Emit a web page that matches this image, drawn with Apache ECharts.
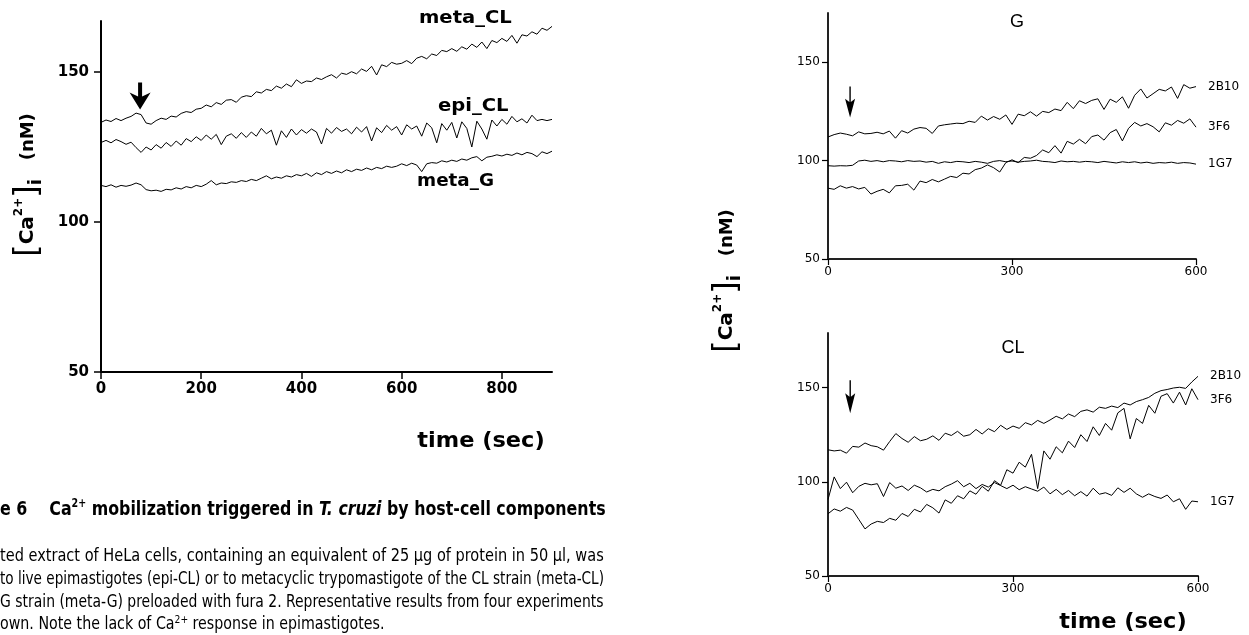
<!DOCTYPE html>
<html><head><meta charset="utf-8">
<script src="https://cdn.jsdelivr.net/npm/echarts@6/dist/echarts.min.js"></script>
<style>html,body{margin:0;padding:0;background:#fff}#c{width:1249px;height:635px}</style>
</head><body><div id="c"></div>
<script>
// ---------- data ----------
const timeLeft = [0,10,20,30,40,50,60,70,80,90,100,110,120,130,140,150,160,170,180,190,200,210,220,230,240,250,260,270,280,290,300,310,320,330,340,350,360,370,380,390,400,410,420,430,440,450,460,470,480,490,500,510,520,530,540,550,560,570,580,590,600,610,620,630,640,650,660,670,680,690,700,710,720,730,740,750,760,770,780,790,800,810,820,830,840,850,860,870,880,890,900];
const timeRight = [0,10,20,30,40,50,60,70,80,90,100,110,120,130,140,150,160,170,180,190,200,210,220,230,240,250,260,270,280,290,300,310,320,330,340,350,360,370,380,390,400,410,420,430,440,450,460,470,480,490,500,510,520,530,540,550,560,570,580,590,600];

const metaCL = [133.2,134.0,133.5,134.5,133.8,134.6,135.2,136.3,135.8,133.0,
132.6,133.8,134.6,134.2,135.3,135.0,136.2,136.8,136.5,137.6,
137.9,139.0,138.4,139.8,139.2,140.6,140.8,139.9,141.6,142.1,
141.8,143.4,143.0,144.2,143.8,145.3,144.6,146.0,145.1,147.4,
146.2,147.0,146.8,148.0,147.5,148.4,149.1,148.0,149.6,149.2,
150.1,149.4,151.0,150.2,151.9,149.0,152.4,151.8,153.2,152.6,
152.9,153.8,152.8,154.6,155.2,154.4,156.0,155.5,157.2,156.8,
157.8,156.9,158.4,157.6,159.3,158.2,160.0,157.8,160.5,159.8,
161.2,160.2,162.2,159.6,162.4,162.0,163.4,162.6,164.6,163.9,
165.2];
const epiCL = [126.5,127.2,126.4,127.5,126.8,125.9,126.6,124.8,123.2,125.0,
124.0,125.8,124.6,126.5,125.2,127.0,125.6,127.8,126.8,128.4,
127.2,129.0,127.6,129.2,125.8,128.6,129.4,127.9,129.8,128.2,
130.0,128.6,131.2,129.4,130.6,125.6,130.4,128.2,131.0,129.0,
130.8,129.6,131.0,130.0,126.0,131.2,129.6,131.5,130.2,131.0,
129.4,131.6,130.0,131.8,127.0,131.4,129.8,132.2,130.6,131.8,
129.0,132.4,131.0,132.0,128.6,133.0,131.4,126.4,132.8,130.6,
133.2,128.0,133.4,131.2,125.0,133.6,131.0,127.6,134.0,132.0,
134.2,132.6,135.2,133.4,134.4,133.0,135.6,133.8,134.2,133.8,
134.2];
const metaG = [112.2,111.8,112.4,111.6,112.2,111.9,112.3,113.0,112.4,110.8,
110.4,110.6,110.2,110.9,110.7,111.4,111.0,111.8,111.4,112.2,
111.8,112.6,113.8,112.4,113.0,112.8,113.4,113.2,113.8,113.5,
114.2,113.8,114.6,115.4,114.4,115.0,114.6,115.4,115.0,115.8,
115.4,116.2,115.2,116.4,115.8,116.8,116.2,117.0,116.4,117.4,
116.8,117.6,117.2,118.0,117.4,118.2,117.8,118.6,118.2,118.6,
119.4,118.8,119.6,119.0,116.8,119.4,119.8,119.6,120.4,120.0,
120.6,120.2,121.0,120.6,121.4,121.8,120.4,121.6,121.9,122.4,
122.0,122.6,122.2,123.0,122.4,123.2,122.8,121.8,123.4,122.8,
123.6];

const g2B10 = [112.0,113.2,114.0,113.4,112.6,114.6,113.6,113.8,114.4,113.6,
115.0,111.4,115.2,114.0,116.0,116.8,116.4,113.8,117.6,118.2,
118.6,119.0,118.8,120.0,119.4,122.6,120.6,122.4,121.0,123.2,
118.4,123.6,122.8,124.8,122.6,125.0,124.4,126.2,125.4,129.6,
126.4,130.4,129.0,130.6,131.4,126.0,131.2,129.6,132.4,126.6,
133.2,136.4,131.8,134.0,136.2,135.4,137.4,131.6,138.6,136.8,
137.6];
const g3F6 = [86.0,85.4,87.2,86.0,86.8,85.6,86.4,83.0,84.4,85.4,
83.6,87.2,87.4,88.0,85.0,89.6,88.8,90.4,89.2,90.6,
92.0,91.4,93.6,93.2,95.4,96.2,97.8,96.4,94.2,99.0,
100.4,99.0,101.6,101.2,102.6,105.4,104.0,107.6,103.8,109.8,
108.4,110.8,108.6,112.2,113.0,110.4,114.2,115.8,110.0,116.4,
119.4,117.6,118.8,117.2,114.6,119.2,118.0,120.4,119.0,121.2,
117.0];
const g1G7 = [97.4,97.2,97.4,97.3,97.6,99.8,100.2,99.6,100.0,99.4,
100.0,99.8,99.4,100.0,99.6,99.8,99.2,99.6,98.6,99.4,
99.0,99.6,99.4,99.0,99.6,99.2,98.6,99.6,100.0,99.4,
99.8,99.2,99.6,99.8,100.2,99.6,99.4,99.0,99.8,99.4,
99.6,99.2,99.6,99.4,99.0,99.6,99.2,98.8,99.4,99.0,
99.4,98.8,99.2,98.6,99.0,98.8,99.2,98.6,99.0,98.8,
98.2];

const cl2B10 = [117.0,116.4,116.8,115.2,118.8,118.4,120.6,119.2,118.6,116.8,
121.4,125.6,123.0,121.0,124.0,121.8,122.6,124.4,122.0,125.8,
124.6,126.8,124.2,125.0,127.8,125.4,128.2,126.6,130.0,127.8,
129.6,128.4,131.4,130.2,132.6,131.0,132.8,134.8,133.4,136.0,
134.6,137.4,138.2,137.0,139.6,139.0,140.2,139.4,141.8,140.8,
142.6,143.6,144.8,147.0,148.4,149.0,149.8,150.2,149.6,153.0,
156.0];
const cl3F6 = [83.0,85.6,84.4,86.4,85.0,80.0,75.0,77.6,79.0,78.4,
80.6,79.6,83.2,81.6,85.4,84.0,88.0,86.2,83.4,90.4,
88.6,92.6,91.0,95.2,93.4,97.6,95.0,100.6,98.2,106.4,
104.6,110.4,107.8,114.6,96.4,116.4,112.0,118.6,115.4,121.6,
118.2,125.0,121.4,129.2,124.6,131.0,127.4,136.6,139.0,122.8,
133.6,131.0,140.6,136.4,145.4,146.8,141.8,147.6,140.8,149.4,
143.6];
const cl1G7 = [90.6,102.6,96.4,99.8,94.2,97.6,99.2,98.4,99.0,92.2,
99.6,96.6,97.8,95.4,98.2,96.8,94.6,96.0,95.2,97.4,
98.8,100.6,97.4,99.2,96.4,98.6,97.2,99.6,98.0,96.4,
98.2,95.8,97.4,96.2,95.0,97.2,93.6,96.0,93.2,95.4,
92.6,94.8,92.4,96.6,93.4,94.2,92.8,96.8,94.4,96.6,
93.6,91.8,93.6,92.2,91.2,93.0,89.4,91.0,85.4,89.8,
89.4];

const leftXTicks = [0,200,400,600,800];
const leftYTicks = [50,100,150];
const rightXTicks = [0,300,600];
const rightYTicks = [50,100,150];
const stimulusLeft = [78, 142];
const stimulusG = [36, 129.8];
const stimulusCL = [36, 145.2];

// ---------- helpers ----------
function pts(t, v) { return t.map((x, i) => [x, v[i]]); }
const TICK_FONT = 'DejaVu Sans';
function xAx(gi, max, ticks, big) {
  return {
    type: 'value', gridIndex: gi, min: 0, max: max,
    axisLine: { show: true, onZero: false, lineStyle: { color: big ? '#000' : '#222', width: 2 } },
    axisTick: { show: true, inside: false, length: big ? 7 : 6, customValues: ticks, lineStyle: { color: '#000', width: big ? 1.5 : 1.2 } },
    axisLabel: { customValues: ticks, color: '#000', fontFamily: TICK_FONT, fontSize: big ? 15 : 12, fontWeight: big ? 'bold' : 'normal', margin: big ? 10 : 7 },
    splitLine: { show: false }
  };
}
function yAx(gi, max, ticks, big) {
  return {
    type: 'value', gridIndex: gi, min: 50, max: max,
    axisLine: { show: true, onZero: false, lineStyle: { color: big ? '#000' : '#222', width: 2 } },
    axisTick: { show: true, inside: false, length: big ? 7 : 6, customValues: ticks, lineStyle: { color: '#000', width: big ? 1.5 : 1.2 } },
    axisLabel: { customValues: ticks, color: '#000', fontFamily: TICK_FONT, fontSize: big ? 15 : 12, fontWeight: big ? 'bold' : 'normal', margin: big ? 12 : 8 },
    splitLine: { show: false }
  };
}
function line(name, gi, t, v, endLabel, extra) {
  const s = {
    name: name, type: 'line', xAxisIndex: gi, yAxisIndex: gi,
    data: pts(t, v), symbol: 'none', smooth: false,
    lineStyle: { color: '#000', width: 1 }, itemStyle: { color: '#000' },
    silent: true, animation: false
  };
  if (endLabel) {
    s.endLabel = { show: true, formatter: name, color: '#000', fontFamily: TICK_FONT, fontSize: 12, distance: 12 };
  }
  return Object.assign(s, extra || {});
}
const bigArrow = 'path://M8.5,0 L12.5,0 L12.5,14 L21,10 L10.5,27 L0,10 L8.5,14 Z';
const thinArrow = 'path://M4.3,0 L5.7,0 L5.7,15 L10,12 L5,30 L0,12 L4.3,15 Z';
function arrowMark(coord, path, size) {
  return { markPoint: { silent: true, symbol: path, symbolSize: size, symbolKeepAspect: false,
    itemStyle: { color: '#000' }, label: { show: false }, data: [{ coord: coord }] } };
}

const option = {
  backgroundColor: '#fff',
  animation: false,
  grid: [
    { left: 101, top: 21, width: 451, height: 351, outerBoundsMode: 'none' },
    { left: 828, top: 13, width: 368, height: 246, outerBoundsMode: 'none' },
    { left: 828, top: 333, width: 370, height: 243, outerBoundsMode: 'none' }
  ],
  xAxis: [xAx(0, 900, leftXTicks, true), xAx(1, 600, rightXTicks, false), xAx(2, 600, rightXTicks, false)],
  yAxis: [yAx(0, 167, leftYTicks, true), yAx(1, 175, rightYTicks, false), yAx(2, 179, rightYTicks, false)],
  series: [
    line('meta_CL', 0, timeLeft, metaCL, false, arrowMark(stimulusLeft, bigArrow, [21, 27])),
    line('epi_CL', 0, timeLeft, epiCL, false),
    line('meta_G', 0, timeLeft, metaG, false),
    line('2B10', 1, timeRight, g2B10, true, arrowMark(stimulusG, thinArrow, [10, 31])),
    line('3F6', 1, timeRight, g3F6, true),
    line('1G7', 1, timeRight, g1G7, true),
    line('2B10', 2, timeRight, cl2B10, true, arrowMark(stimulusCL, thinArrow, [10, 33])),
    line('3F6', 2, timeRight, cl3F6, true),
    line('1G7', 2, timeRight, cl1G7, true)
  ],
  graphic: []
};

// ---------- annotations ----------
const LBL = { fontFamily: 'DejaVu Sans', fontWeight: 'bold', fontSize: 17, fill: '#000' };
function txt(text, x, y, st, align, sx) {
  return { type: 'text', x: x, y: y, silent: true, scaleX: sx || 1,
    style: Object.assign({ text: text, align: align || 'left', verticalAlign: 'middle', textAlign: align || 'left', textVerticalAlign: 'middle' }, st) };
}
const g = option.graphic;
g.push(txt('meta_CL', 419, 19, LBL, 'left', 1.15));
g.push(txt('epi_CL', 438, 107, LBL, 'left', 1.15));
g.push(txt('meta_G', 417, 182, LBL, 'left', 1.08));
g.push(txt('time (sec)', 481, 442, { fontFamily: 'DejaVu Sans', fontWeight: 'bold', fontSize: 21, fill: '#000' }, 'center', 1.07));
g.push(txt('time (sec)', 1123, 623, { fontFamily: 'DejaVu Sans', fontWeight: 'bold', fontSize: 21, fill: '#000' }, 'center', 1.07));
g.push(txt('G', 1017, 22, { fontFamily: 'Liberation Sans', fontSize: 18, fill: '#000' }, 'center'));
g.push(txt('CL', 1013, 348, { fontFamily: 'Liberation Sans', fontSize: 18, fill: '#000' }, 'center'));

function caTitle(x, y) {
  const F = 'DejaVu Sans';
  return { type: 'text', x: x, y: y, rotation: Math.PI / 2, silent: true,
    style: {
      text: '{br|[}{ca|Ca}{sup|2+}{br|]}{sub|i}{nm|   (nM)}',
      align: 'center', verticalAlign: 'middle', textAlign: 'center', textVerticalAlign: 'middle',
      rich: {
        br: { fontFamily: F, fontSize: 32, fill: '#000', lineHeight: 34, verticalAlign: 'middle' },
        ca: { fontFamily: F, fontWeight: 'bold', fontSize: 20, fill: '#000', lineHeight: 34, verticalAlign: 'middle' },
        sup: { fontFamily: F, fontWeight: 'bold', fontSize: 12, fill: '#000', lineHeight: 34, verticalAlign: 'top', padding: [2, 0, 0, 0] },
        sub: { fontFamily: F, fontWeight: 'bold', fontSize: 18, fill: '#000', lineHeight: 34, verticalAlign: 'bottom' },
        nm: { fontFamily: F, fontWeight: 'bold', fontSize: 18, fill: '#000', lineHeight: 34, verticalAlign: 'middle' }
      }
    } };
}
g.push(caTitle(28, 185));
g.push(caTitle(727, 281));

const CAP = "'Liberation Sans Narrow','DejaVu Sans Condensed','Liberation Sans'";
g.push({ type: 'text', x: 0, y: 510, silent: true, scaleX: 0.88,
  style: {
    text: '{b|e 6    Ca}{s|2+}{b| mobilization triggered in }{i|T. cruzi}{b| by host-cell components}',
    align: 'left', verticalAlign: 'middle',
    rich: {
      b: { fontFamily: CAP, fontWeight: 'bold', fontSize: 20, fill: '#000', lineHeight: 24 },
      s: { fontFamily: CAP, fontWeight: 'bold', fontSize: 12, fill: '#000', lineHeight: 24, verticalAlign: 'top' },
      i: { fontFamily: CAP, fontWeight: 'bold', fontStyle: 'italic', fontSize: 20, fill: '#000', lineHeight: 24 }
    }
  } });
const BODY = { fontFamily: CAP, fontSize: 17, fill: '#000' };
g.push(txt('ted extract of HeLa cells, containing an equivalent of 25 \u03bcg of protein in 50 \u03bcl, was', 0, 557, BODY, 'left', 0.951));
g.push(txt('to live epimastigotes (epi-CL) or to metacyclic trypomastigote of the CL strain (meta-CL)', 0, 580, BODY, 'left', 0.89));
g.push(txt('G strain (meta-G) preloaded with fura 2. Representative results from four experiments', 0, 603, BODY, 'left', 0.912));
g.push({ type: 'text', x: 0, y: 625, silent: true, scaleX: 0.93,
  style: { text: '{n|own. Note the lack of Ca}{s|2+}{n| response in epimastigotes.}', align: 'left', verticalAlign: 'middle',
    rich: { n: { fontFamily: CAP, fontSize: 17, fill: '#000', lineHeight: 20 },
            s: { fontFamily: CAP, fontSize: 11, fill: '#000', lineHeight: 20, verticalAlign: 'top' } } } });

const chart = echarts.init(document.getElementById('c'), null, { renderer: 'canvas' });
chart.setOption(option);
</script>
</body></html>
